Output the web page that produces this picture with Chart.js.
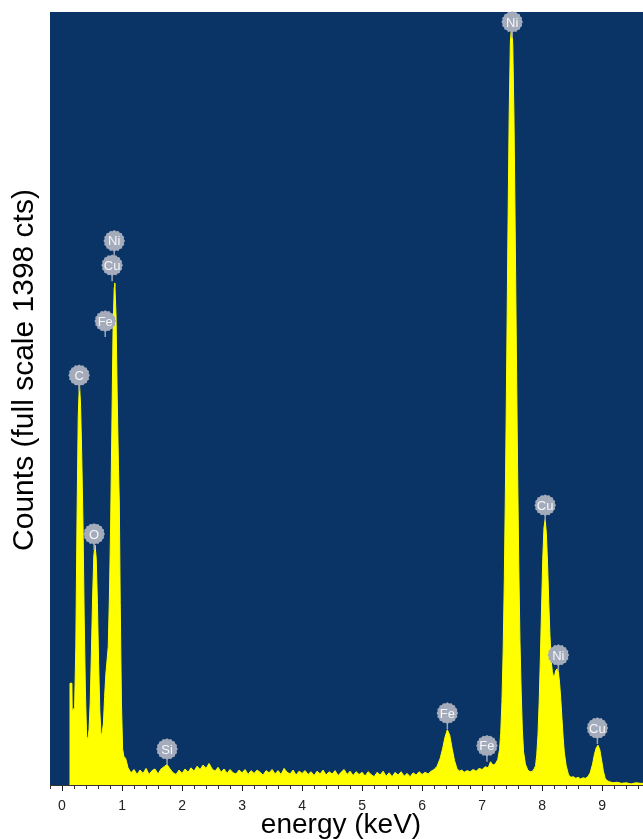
<!DOCTYPE html>
<html>
<head>
<meta charset="utf-8">
<script src="https://cdn.jsdelivr.net/npm/chart.js@4/dist/chart.umd.min.js"></script>
<style>
  body { margin: 0; background: #fff; }
</style>
</head>
<body>
<canvas id="spectre" width="643" height="839"></canvas>
<script>
// spectre EDS : énergie (keV) et coups
const energies = [
  0.13, 0.133, 0.165, 0.17, 0.21, 0.23, 0.25, 0.27, 0.29, 0.31, 0.33, 0.35, 0.37, 0.39, 0.41, 0.43,
  0.45, 0.47, 0.49, 0.51, 0.53, 0.55, 0.57, 0.59, 0.61, 0.63, 0.65, 0.67,
  0.69, 0.71, 0.73, 0.75, 0.77, 0.79, 0.81, 0.83, 0.85, 0.87, 0.88, 0.90, 0.92, 0.94, 0.955, 0.97, 0.99,
  1.01, 1.03, 1.06, 1.08,
  1.10, 1.15, 1.20, 1.25, 1.30, 1.35, 1.40, 1.45, 1.50, 1.55, 1.60, 1.65, 1.70, 1.75, 1.80, 1.85, 1.90, 1.95,
  2.00, 2.05, 2.10, 2.15, 2.20, 2.25, 2.30, 2.35, 2.40, 2.45, 2.50, 2.55, 2.60, 2.65, 2.70, 2.75, 2.80, 2.85, 2.90, 2.95,
  3.00, 3.05, 3.10, 3.15, 3.20, 3.25, 3.30, 3.35, 3.40, 3.45, 3.50, 3.55, 3.60, 3.65, 3.70, 3.75, 3.80, 3.85, 3.90, 3.95,
  4.00, 4.05, 4.10, 4.15, 4.20, 4.25, 4.30, 4.35, 4.40, 4.45, 4.50, 4.55, 4.60, 4.65, 4.70, 4.75, 4.80, 4.85, 4.90, 4.95,
  5.00, 5.05, 5.10, 5.15, 5.20, 5.25, 5.30, 5.35, 5.40, 5.45, 5.50, 5.55, 5.60, 5.65, 5.70, 5.75, 5.80, 5.85, 5.90, 5.95,
  6.00, 6.05, 6.10, 6.15, 6.20,
  6.25, 6.30, 6.34, 6.38, 6.42, 6.46, 6.50, 6.54, 6.58, 6.62, 6.66, 6.70, 6.75, 6.80, 6.85, 6.90, 6.95,
  7.00, 7.05, 7.10, 7.14, 7.18, 7.22, 7.26,
  7.29, 7.31, 7.33, 7.35, 7.37, 7.39, 7.41, 7.43, 7.45, 7.47, 7.49, 7.51, 7.53, 7.55, 7.57, 7.59, 7.61, 7.63,
  7.65, 7.67, 7.69, 7.72, 7.76, 7.80, 7.84, 7.87,
  7.89, 7.91, 7.93, 7.95, 7.97, 7.99, 8.01, 8.03, 8.05, 8.07, 8.09, 8.11, 8.13, 8.15, 8.17, 8.19, 8.21, 8.23,
  8.25, 8.27, 8.29, 8.31, 8.33, 8.35, 8.37, 8.40, 8.44, 8.48, 8.52, 8.56, 8.60, 8.64, 8.68, 8.72, 8.76,
  8.80, 8.84, 8.87, 8.90, 8.93, 8.96, 8.99, 9.02, 9.05, 9.08, 9.12, 9.18, 9.25, 9.32, 9.40, 9.48, 9.56, 9.64, 9.70
];
const counts = [
  0, 184, 184, 134, 140, 250, 480, 665, 729, 685, 590, 470, 300, 170, 88, 82,
  100, 150, 240, 340, 415, 434, 410, 330, 220, 135, 90, 95,
  112, 160, 200, 225, 250, 340, 470, 640, 820, 900, 908, 850, 700, 580, 510, 330, 150,
  65, 52, 48, 40,
  31, 22, 28, 19, 27, 21, 30, 19, 26, 29, 20, 29, 33, 37, 29, 22, 19, 27,
  21, 29, 23, 31, 25, 34, 28, 36, 30, 39, 29, 25, 32, 23, 29, 21, 28, 22, 20, 27,
  22, 28, 19, 26, 21, 27, 23, 18, 26, 22, 28, 20, 26, 19, 30, 23, 20, 27, 18, 25,
  21, 26, 19, 24, 17, 25, 20, 27, 18, 24, 20, 26, 17, 23, 28, 19, 25, 17, 24, 19,
  23, 16, 24, 19, 15, 23, 18, 25, 16, 22, 15, 23, 18, 24, 16, 21, 15, 22, 18, 24,
  19, 23, 20, 25, 28,
  34, 48, 65, 86, 100, 90, 66, 44, 30, 25, 27, 23, 26, 24, 28, 25, 30,
  28, 33, 31, 42, 36, 38, 46,
  64, 95, 151, 242, 377, 557, 774, 1003, 1209, 1344, 1372, 1340, 1210, 1010, 790, 580, 400, 260,
  170, 100, 60, 38, 27, 24, 25, 30,
  35, 55, 90, 150, 230, 320, 410, 465, 480, 455, 400, 330, 270, 225, 205, 195, 200, 208,
  210, 205, 185, 155, 120, 85, 58, 35, 18, 14, 15, 12, 14, 11, 13, 12, 15,
  22, 38, 55, 67, 72, 64, 45, 25, 12, 8, 6, 4, 5, 3, 4, 2, 4, 3, 3
];

// graduations principales de l'axe des énergies
const energyTicks = [0, 1, 2, 3, 4, 5, 6, 7, 8, 9];

// étiquettes des éléments (nom, énergie, hauteur de la pastille en coups)
const labelNames    = ["Ni", "Cu", "Fe", "C", "O", "Si", "Fe", "Fe", "Ni", "Cu", "Ni", "Cu"];
const labelEnergies = [0.87, 0.835, 0.72, 0.285, 0.535, 1.75, 6.42, 7.08, 7.50, 8.05, 8.27, 8.92];
const labelCounts   = [984, 940, 839, 741, 454, 65, 130, 71, 1380, 506, 235, 103];

const fullScale = 1398;
const xMin = -0.2;
const xMax = 9.68;
const police = "'Liberation Sans', Arial, sans-serif";

// fond du graphique
const fondPlugin = {
  id: "fond",
  beforeDatasetsDraw(chart) {
    const { ctx, chartArea: a } = chart;
    ctx.save();
    ctx.fillStyle = "#0a3465";
    ctx.fillRect(a.left, a.top, a.right - a.left, a.bottom - a.top);
    ctx.restore();
  },
};

// petites graduations tous les 0.2 keV + titres des axes
const axesPlugin = {
  id: "axes",
  afterDraw(chart) {
    const { ctx, chartArea: a } = chart;
    const x = chart.scales.x;
    ctx.save();
    ctx.strokeStyle = "#333";
    ctx.lineWidth = 1;
    for (let i = -1; i * 0.2 <= xMax; i++) {
      if (i % 5 === 0) continue;
      const px = Math.round(x.getPixelForValue(i * 0.2)) + 0.5;
      ctx.beginPath();
      ctx.moveTo(px, a.bottom);
      ctx.lineTo(px, a.bottom + 4);
      ctx.stroke();
    }
    ctx.fillStyle = "#000";
    ctx.textAlign = "center";
    ctx.textBaseline = "middle";
    ctx.font = "28px " + police;
    ctx.fillText("energy (keV)", 341, 825);
    ctx.translate(25, 370);
    ctx.rotate(-Math.PI / 2);
    ctx.font = "30px " + police;
    ctx.fillText("Counts (full scale 1398 cts)", 0, 0);
    ctx.restore();
  },
};

// pastilles des éléments
const pastillesPlugin = {
  id: "pastilles",
  afterDatasetsDraw(chart) {
    const { ctx } = chart;
    const x = chart.scales.x;
    const y = chart.scales.y;
    ctx.save();
    labelNames.forEach((nom, i) => {
      const px = x.getPixelForValue(labelEnergies[i]);
      const py = y.getPixelForValue(labelCounts[i]);
      ctx.strokeStyle = "#9ea6b6";
      ctx.lineWidth = 1.5;
      ctx.beginPath();
      ctx.moveTo(px, py + 9);
      ctx.lineTo(px, py + 16);
      ctx.stroke();
      ctx.fillStyle = "#a4abba";
      ctx.beginPath();
      for (let k = 0; k <= 32; k++) {
        const ang = (k / 32) * Math.PI * 2;
        const r = k % 2 === 0 ? 10.8 : 9.8;
        const cx = px + r * Math.cos(ang);
        const cy = py + r * Math.sin(ang);
        if (k === 0) ctx.moveTo(cx, cy);
        else ctx.lineTo(cx, cy);
      }
      ctx.closePath();
      ctx.fill();
      ctx.fillStyle = "#f4f6fa";
      ctx.font = "13px " + police;
      ctx.textAlign = "center";
      ctx.textBaseline = "middle";
      ctx.fillText(nom, px, py + 1);
    });
    ctx.restore();
  },
};

const points = energies.map((e, i) => ({ x: e, y: counts[i] }));

new Chart(document.getElementById("spectre"), {
  type: "line",
  data: {
    datasets: [
      {
        data: points,
        fill: "origin",
        backgroundColor: "#ffff00",
        borderColor: "#ffff00",
        borderWidth: 1,
        pointRadius: 0,
        tension: 0,
      },
    ],
  },
  options: {
    responsive: false,
    animation: false,
    devicePixelRatio: 1,
    layout: { padding: { top: 12, left: 0, right: 0, bottom: 0 } },
    plugins: { legend: { display: false }, tooltip: { enabled: false } },
    scales: {
      x: {
        type: "linear",
        min: xMin,
        max: xMax,
        ticks: {
          color: "#222",
          font: { family: police, size: 14 },
          padding: 7,
          maxRotation: 0,
          autoSkip: false,
          callback: (v) => String(Math.round(v)),
        },
        afterBuildTicks: (s) => {
          s.ticks = energyTicks.map((v) => ({ value: v }));
        },
        afterFit: (s) => { s.height = 54; },
        grid: { drawOnChartArea: false, tickLength: 6, tickColor: "#222" },
        border: { display: true, color: "#333", width: 1 },
      },
      y: {
        min: 0,
        max: fullScale,
        ticks: { display: false },
        grid: { display: false },
        border: { display: true, color: "#9a9a9a", width: 1 },
        afterFit: (s) => { s.width = 50; },
      },
    },
  },
  plugins: [fondPlugin, axesPlugin, pastillesPlugin],
});
</script>
</body>
</html>
